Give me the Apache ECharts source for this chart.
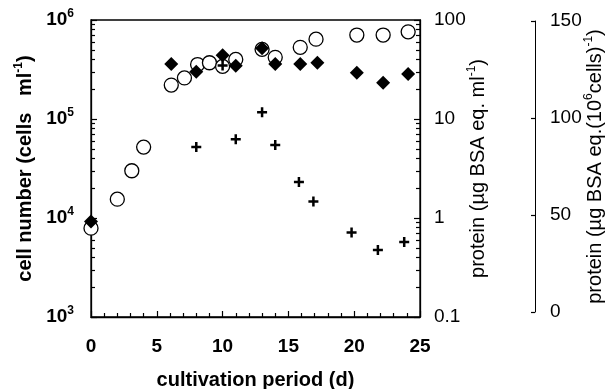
<!DOCTYPE html>
<html>
<head>
<meta charset="utf-8">
<script src="https://cdn.jsdelivr.net/npm/echarts@6/dist/echarts.min.js"></script>
<style>
  html, body { margin: 0; padding: 0; background: #fff; }
  #main { width: 606px; height: 389px; }
</style>
</head>
<body>
<div id="main"></div>
<script>
var chartDom = document.getElementById('main');
var myChart = echarts.init(chartDom);
var option;

const FONT = '"Liberation Sans", Arial, sans-serif';

// cell number (cells/ml), open circles
const cellDays = [0, 2, 3.1, 4, 6.1, 7.1, 8.1, 9, 10, 11, 13, 14, 15.9, 17.1, 20.2, 22.2, 24.1];
const cellNumber = [7.9e3, 1.55e4, 3.0e4, 5.2e4, 2.2e5, 2.6e5, 3.55e5, 3.7e5, 3.4e5, 4.0e5, 5.05e5, 4.2e5, 5.3e5, 6.4e5, 7.05e5, 7.05e5, 7.6e5];

// protein (ug BSA eq./ml), filled diamonds
const protDays = [0, 6.1, 8, 10, 11, 13, 14, 15.9, 17.2, 20.2, 22.2, 24.1];
const proteinMl = [0.92, 36, 30, 44, 34.6, 51.8, 36, 36, 37, 29.4, 23.3, 28.5];

// protein per 10^6 cells, crosses
const perCellDays = [8, 10, 11, 13, 14, 15.8, 16.9, 19.8, 21.8, 23.8];
const proteinPerCell = [85, 127, 89, 103, 86, 67, 57, 41, 32, 36];

const cellTicks = [1e3, 1e4, 1e5, 1e6];
const mlTicks = [0.1, 1, 10, 100];

// minor ticks at 2..9 x each decade, in log10 units
function minorLogTicks(decades) {
  let out = [];
  decades.slice(0, -1).forEach(d => {
    for (let k = 2; k <= 9; k++) out.push(Math.log10(d * k));
  });
  return out;
}

function pairs(xs, ys) {
  return xs.map((x, i) => [x, ys[i]]);
}

const plusPath = 'path://M3,0H5V3H8V5H5V8H3V5H0V3H3Z';

function supRich(size, supSize, weight, lh) {
  return {
    n: { fontFamily: FONT, fontWeight: weight, fontSize: size, color: '#000', lineHeight: lh },
    s: { fontFamily: FONT, fontWeight: weight, fontSize: supSize, color: '#000', verticalAlign: 'top' }
  };
}

const tickStyle = { color: '#000', width: 1.2 };

option = {
  backgroundColor: '#fff',
  animation: false,
  grid: [
    { left: 91, right: 186, top: 20, bottom: 72, outerBoundsMode: 'none', containLabel: false,
      show: true, borderColor: '#000', borderWidth: 1.3, backgroundColor: 'transparent' },
    { left: 520, right: 71, top: 21, bottom: 77, outerBoundsMode: 'none', containLabel: false }
  ],
  xAxis: [
    {
      type: 'value', min: 0, max: 25, interval: 5,
      name: 'cultivation period (d)', nameLocation: 'middle', nameGap: 53, nameMoveOverlap: false,
      nameTextStyle: { fontFamily: FONT, fontWeight: 'bold', fontSize: 20, color: '#000' },
      axisLine: { onZero: false, lineStyle: { color: '#000', width: 1.3 } },
      axisTick: { inside: true, length: 6, lineStyle: tickStyle },
      minorTick: { show: true, splitNumber: 5, length: 4, lineStyle: tickStyle },
      splitLine: { show: false },
      axisLabel: { margin: 20, fontFamily: FONT, fontWeight: 'bold', fontSize: 19, color: '#000' }
    },
    { gridIndex: 1, type: 'value', show: false, min: 0, max: 1 }
  ],
  yAxis: [
    {
      type: 'log', logBase: 10, min: 1e3, max: 1e6, position: 'left',
      name: '{n|cell number (cells   ml}{s|-1}{n|)}', nameLocation: 'middle', nameGap: 54, nameRotate: 90, nameMoveOverlap: false,
      nameTextStyle: { rich: supRich(20, 12, 'bold', 24) },
      axisLine: { show: true, onZero: false, lineStyle: { color: '#000', width: 1.3 } },
      axisTick: { inside: true, length: 6, lineStyle: tickStyle },
      splitLine: { show: false },
      axisLabel: {
        margin: 17,
        formatter: v => '{b|10}{s|' + Math.round(Math.log10(v)) + '}',
        rich: {
          b: { fontFamily: FONT, fontWeight: 'bold', fontSize: 19, color: '#000', lineHeight: 24 },
          s: { fontFamily: FONT, fontWeight: 'bold', fontSize: 12, color: '#000', verticalAlign: 'top' }
        }
      }
    },
    {
      type: 'log', logBase: 10, min: 0.1, max: 100, position: 'right',
      name: '{n|protein (µg BSA eq. ml}{s|-1}{n|)}', nameLocation: 'middle', nameGap: 46, nameRotate: 90, nameMoveOverlap: false,
      nameTextStyle: { rich: supRich(20, 12, 'normal', 24) },
      axisLine: { show: true, onZero: false, lineStyle: { color: '#000', width: 1.3 } },
      axisTick: { inside: true, length: 6, lineStyle: tickStyle },
      splitLine: { show: false },
      axisLabel: {
        margin: 14, fontFamily: FONT, fontSize: 19, color: '#000',
        formatter: v => mlTicks.find(t => Math.abs(t - v) < t * 1e-6) + ''
      }
    },
    {
      type: 'value', min: 3, max: 6, position: 'left',
      axisLine: { show: false, onZero: false }, axisLabel: { show: false }, splitLine: { show: false },
      axisTick: { show: true, inside: true, length: 4, customValues: minorLogTicks(cellTicks), lineStyle: tickStyle }
    },
    {
      type: 'value', min: -1, max: 2, position: 'right',
      axisLine: { show: false, onZero: false }, axisLabel: { show: false }, splitLine: { show: false },
      axisTick: { show: true, inside: true, length: 4, customValues: minorLogTicks(mlTicks), lineStyle: tickStyle }
    },
    {
      type: 'value', min: -2.6, max: 150.5, show: false
    },
    {
      gridIndex: 1, type: 'value', min: 0, max: 150, interval: 50, position: 'right',
      name: '{n|protein (µg BSA eq.(10}{s|6}{n|cells)}{s|-1}{n|)}', nameLocation: 'middle', nameGap: 48, nameRotate: 90, nameMoveOverlap: false,
      nameTextStyle: { rich: supRich(20, 12, 'normal', 24) },
      axisLine: { show: true, onZero: false, lineStyle: { color: '#000', width: 1 } },
      axisTick: { inside: true, length: 4, lineStyle: tickStyle },
      splitLine: { show: false },
      axisLabel: { margin: 15, fontFamily: FONT, fontSize: 19, color: '#000' }
    }
  ],
  series: [
    {
      name: 'cells', type: 'scatter', xAxisIndex: 0, yAxisIndex: 0,
      data: pairs(cellDays, cellNumber),
      symbol: 'circle', symbolSize: 14,
      itemStyle: { color: '#fff', borderColor: '#000', borderWidth: 1.3, opacity: 1 }
    },
    {
      name: 'protein ml', type: 'scatter', xAxisIndex: 0, yAxisIndex: 1,
      data: pairs(protDays, proteinMl),
      symbol: 'diamond', symbolSize: 14,
      itemStyle: { color: '#000', opacity: 1 }
    },
    {
      name: 'protein per cell', type: 'scatter', xAxisIndex: 0, yAxisIndex: 4,
      data: pairs(perCellDays, proteinPerCell),
      symbol: plusPath, symbolSize: 10,
      itemStyle: { color: '#000', opacity: 1 }
    }
  ]
};

option && myChart.setOption(option);
</script>
</body>
</html>
